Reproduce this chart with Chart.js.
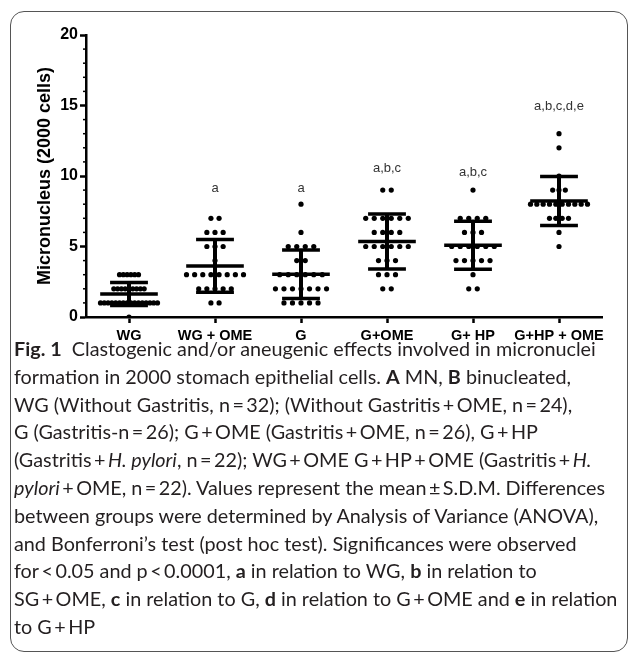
<!DOCTYPE html>
<html>
<head>
<meta charset="utf-8">
<script src="https://cdn.jsdelivr.net/npm/chart.js@4.4.1/dist/chart.umd.min.js"></script>
<style>
  html, body { margin: 0; padding: 0; background: #fff; }
  body { width: 630px; height: 653px; overflow: hidden; position: relative; }
  #quadro { position: absolute; left: 10px; top: 11px; width: 618px; height: 641px; border: 1px solid #555; border-radius: 14px; box-sizing: border-box; }
  #grafico { position: absolute; left: 0; top: 0; }
  #legenda { position: absolute; left: 14px; top: 335px; font-family: Lato, sans-serif; font-size: 19.8px; line-height: 27.8px; color: #231f20; white-space: nowrap; }
  #legenda b { font-weight: 700; }
</style>
</head>
<body>
<div id="quadro"></div>
<canvas id="grafico" width="630" height="345"></canvas>
<div id="legenda">
<div><b>Fig. 1</b>&nbsp; Clastogenic and/or aneugenic effects involved in micronuclei</div>
<div>formation in 2000 stomach epithelial cells. <b>A</b> MN, <b>B</b> binucleated,</div>
<div>WG (Without Gastritis, n&#8201;=&#8201;32); (Without Gastritis&#8201;+&#8201;OME, n&#8201;=&#8201;24),</div>
<div>G (Gastritis-n&#8201;=&#8201;26); G&#8201;+&#8201;OME (Gastritis&#8201;+&#8201;OME, n&#8201;=&#8201;26), G&#8201;+&#8201;HP</div>
<div>(Gastritis&#8201;+&#8201;<i>H. pylori</i>, n&#8201;=&#8201;22); WG&#8201;+&#8201;OME G&#8201;+&#8201;HP&#8201;+&#8201;OME (Gastritis&#8201;+&#8201;<i>H.</i></div>
<div><i>pylori</i>&#8201;+&#8201;OME, n&#8201;=&#8201;22). Values represent the mean&#8201;±&#8201;S.D.M. Differences</div>
<div>between groups were determined by Analysis of Variance (ANOVA),</div>
<div>and Bonferroni’s test (post hoc test). Significances were observed</div>
<div>for&#8201;&lt;&#8201;0.05 and p&#8201;&lt;&#8201;0.0001, <b>a</b> in relation to WG, <b>b</b> in relation to</div>
<div>SG&#8201;+&#8201;OME, <b>c</b> in relation to G, <b>d</b> in relation to G&#8201;+&#8201;OME and <b>e</b> in relation</div>
<div>to G&#8201;+&#8201;HP</div>
</div>
<script>
// grupos e observações
const grupos = ['WG', 'WG + OME', 'G', 'G+OME', 'G+ HP', 'G+HP + OME'];

const wg = [0, 1,1,1,1,1,1,1,1,1,1,1,1,1,1,1,1, 2,2,2,2,2,2,2,2,2, 3,3,3,3,3,3];
const wgOme = [1,1, 2,2,2,2,2, 3,3,3,3,3,3,3,3, 4, 5,5,5, 6,6,6, 7,7];
const g = [1,1,1,1,1, 2,2,2,2,2,2,2, 3,3,3,3,3,3, 4,4, 5,5,5,5, 6, 8];
const gOme = [2,2, 3,3,3, 4,4,4, 5,5,5,5,5,5, 6,6,6,6, 7,7,7,7,7,7, 9,9];
const gHp = [2,2, 3, 4,4,4,4,4, 5,5,5,5,5,5, 6,6,6, 7,7,7,7, 9];
const gHpOme = [5, 6, 7,7,7,7, 8,8,8,8,8,8,8,8,8,8, 9,9,9, 10, 12, 13];
const observacoes = [wg, wgOme, g, gOme, gHp, gHpOme];

// média e desvio padrão (barras)
const medias = [1.63, 3.62, 3.04, 5.35, 5.09, 8.23];
const desvios = [0.81, 1.87, 1.72, 1.95, 1.70, 1.74];

// letras de significância
const letras = ['', 'a', 'a', 'a,b,c', 'a,b,c', 'a,b,c,d,e'];
const letrasY = [0, 9.15, 9.1, 10.57, 10.28, 14.9];

const yTicks = [0, 5, 10, 15, 20];

// espalha os pontos de cada linha horizontalmente
function montarPontos() {
    const pontos = [];
    observacoes.forEach((vals, i) => {
        const contagem = {};
        vals.forEach(v => { contagem[v] = (contagem[v] || 0) + 1; });
        const maxLinha = Math.max(...Object.values(contagem));
        const passo = maxLinha > 1 ? Math.min(0.099, 0.663 / (maxLinha - 1)) : 0.099;
        Object.keys(contagem).forEach(k => {
            const n = contagem[k];
            for (let j = 0; j < n; j++) {
                pontos.push({ x: i + (j - (n - 1) / 2) * passo, y: Number(k) });
            }
        });
    });
    return pontos;
}

function linha(ctx, x1, y1, x2, y2) {
    ctx.beginPath();
    ctx.moveTo(x1, y1);
    ctx.lineTo(x2, y2);
    ctx.stroke();
}

const barrasMedia = {
    id: 'barrasMedia',
    afterDatasetsDraw(chart) {
        const { ctx, scales: { x, y } } = chart;
        ctx.save();
        ctx.strokeStyle = '#000';
        medias.forEach((m, i) => {
            const sd = desvios[i];
            const xc = x.getPixelForValue(i);
            // média
            ctx.lineWidth = 3.5;
            linha(ctx, x.getPixelForValue(i - 0.335), y.getPixelForValue(m), x.getPixelForValue(i + 0.335), y.getPixelForValue(m));
            // desvio
            ctx.lineWidth = 4;
            linha(ctx, xc, y.getPixelForValue(m - sd), xc, y.getPixelForValue(m + sd));
            ctx.lineWidth = 3.5;
            linha(ctx, x.getPixelForValue(i - 0.22), y.getPixelForValue(m + sd), x.getPixelForValue(i + 0.22), y.getPixelForValue(m + sd));
            linha(ctx, x.getPixelForValue(i - 0.22), y.getPixelForValue(m - sd), x.getPixelForValue(i + 0.22), y.getPixelForValue(m - sd));
        });
        // letras
        ctx.fillStyle = '#333';
        ctx.font = '13px "Liberation Sans", Arial, sans-serif';
        ctx.textAlign = 'center';
        ctx.textBaseline = 'middle';
        letras.forEach((t, i) => {
            if (t) ctx.fillText(t, x.getPixelForValue(i), y.getPixelForValue(letrasY[i]));
        });
        // ticks menores do eixo y
        ctx.lineWidth = 1.5;
        for (let v = 0; v <= 20; v++) {
            if (v % 5 === 0) continue;
            const py = y.getPixelForValue(v);
            linha(ctx, x.left - 3, py, x.left, py);
        }
        ctx.restore();
    }
};

const familia = '"Liberation Sans", Arial, sans-serif';

new Chart(document.getElementById('grafico'), {
    type: 'scatter',
    data: {
        datasets: [{
            data: montarPontos(),
            pointRadius: 2.6,
            pointBackgroundColor: '#000',
            pointBorderWidth: 0
        }]
    },
    options: {
        responsive: false,
        animation: false,
        layout: { padding: { top: 35, right: 28, left: 0, bottom: 0 } },
        plugins: { legend: { display: false }, tooltip: { enabled: false } },
        scales: {
            x: {
                type: 'linear',
                min: -0.5,
                max: 5.5,
                afterBuildTicks: s => { s.ticks = grupos.map((_, i) => ({ value: i })); },
                afterFit: s => { s.height = 28; },
                ticks: { callback: v => grupos[v], font: { family: familia, weight: 'bold', size: 14.5 }, color: '#000', maxRotation: 0, autoSkip: false, padding: 4 },
                grid: { drawOnChartArea: false, tickLength: 6, tickWidth: 2.5, color: '#000' },
                border: { width: 2.5, color: '#000' }
            },
            y: {
                min: 0,
                max: 20,
                afterBuildTicks: s => { s.ticks = yTicks.map(v => ({ value: v })); },
                afterFit: s => { s.width = 86; },
                ticks: { font: { family: familia, weight: 'bold', size: 16 }, color: '#000', padding: 2 },
                grid: { drawOnChartArea: false, tickLength: 6, tickWidth: 2.5, color: '#000' },
                border: { width: 2.5, color: '#000' },
                title: {
                    display: true,
                    text: 'Micronucleus (2000 cells)',
                    font: { family: familia, weight: 'bold', size: 18 },
                    color: '#000',
                    padding: { top: 34, bottom: 0 }
                }
            }
        }
    },
    plugins: [barrasMedia]
});
</script>
</body>
</html>
